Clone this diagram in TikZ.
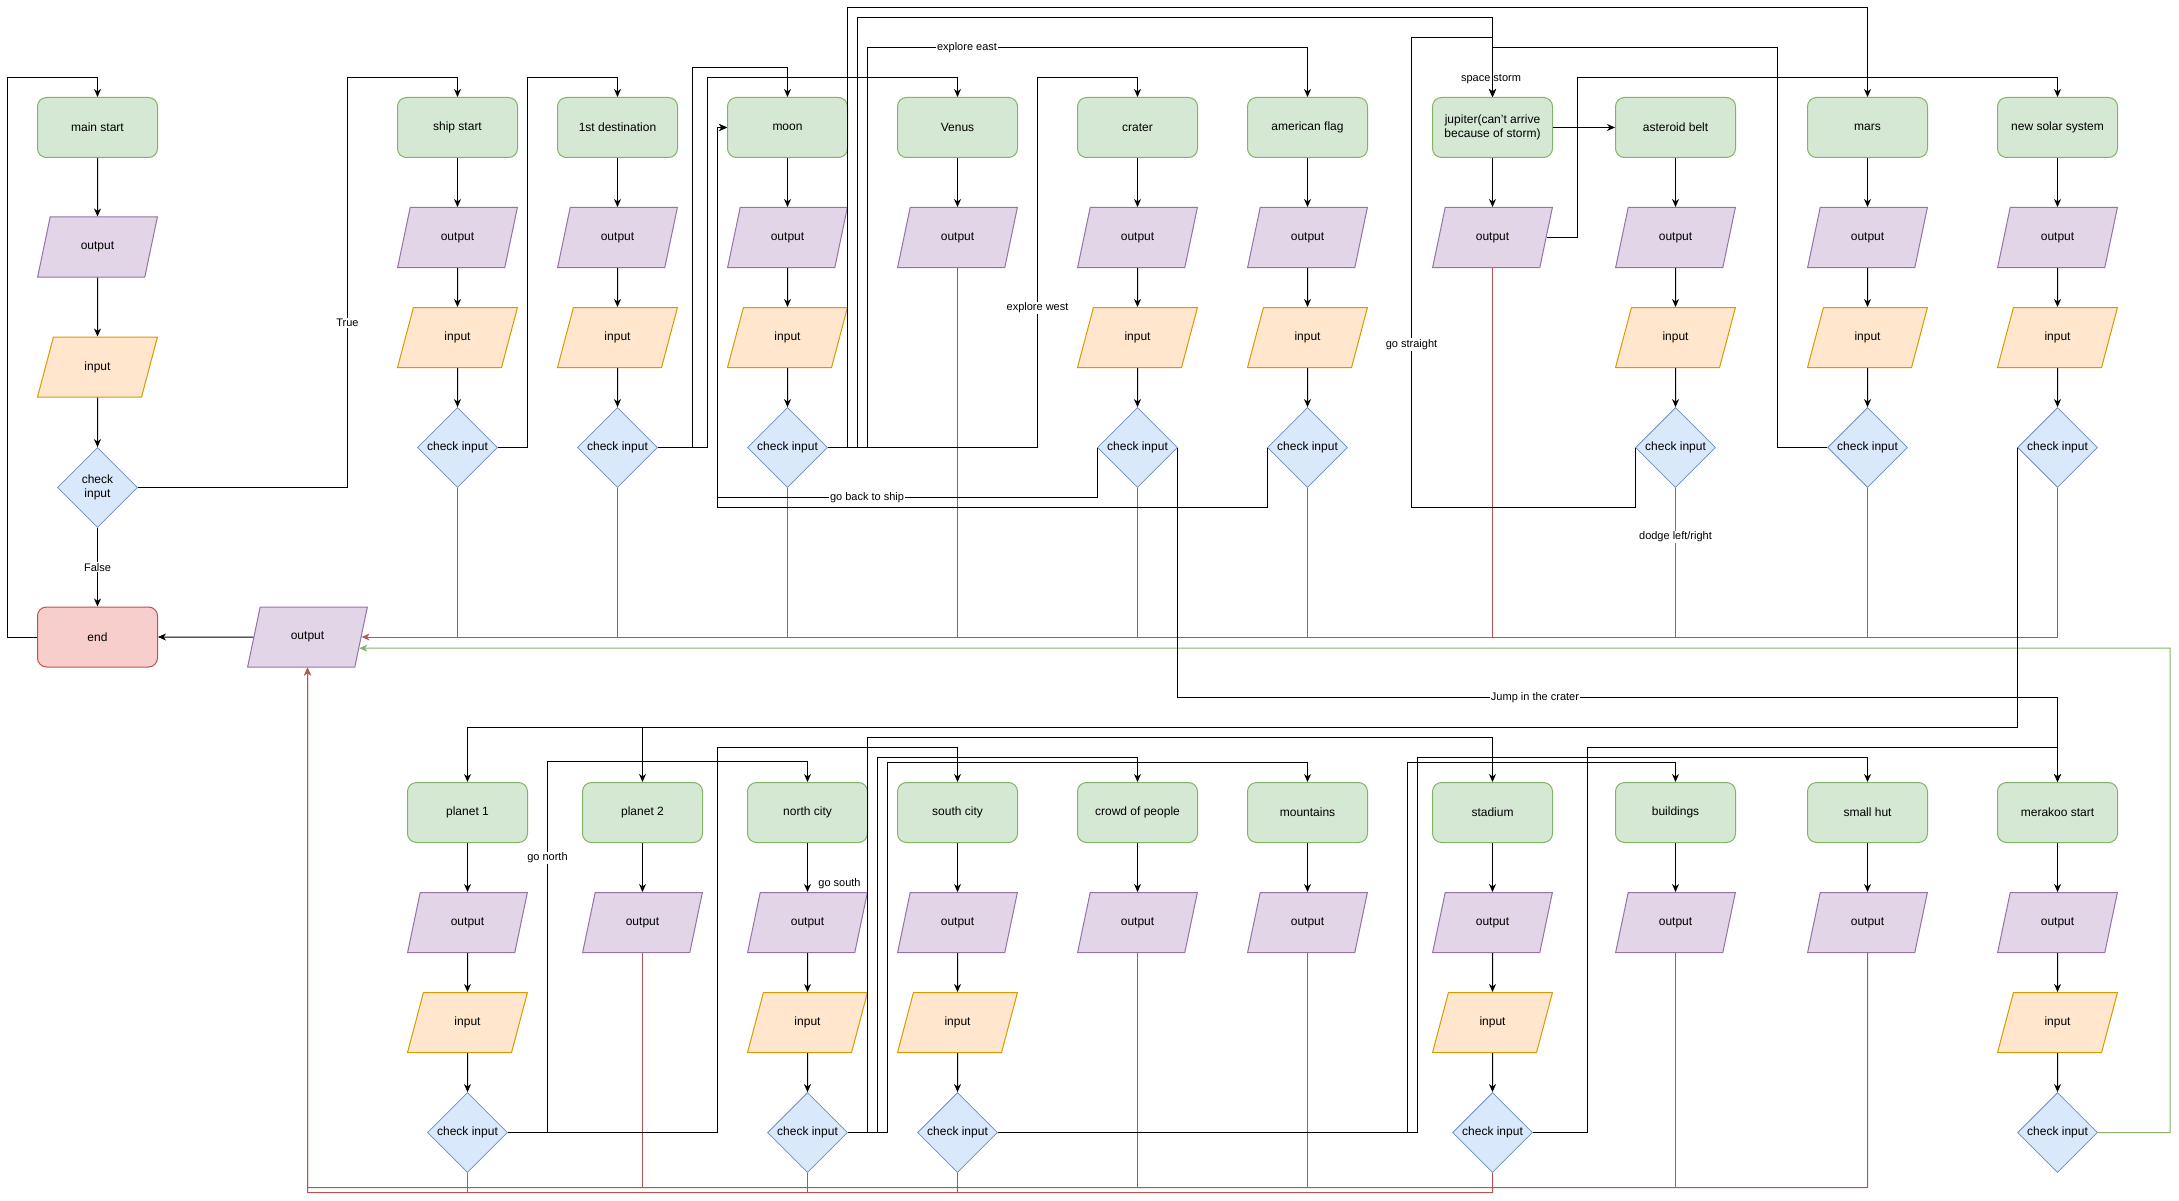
\documentclass[tikz,border=0pt]{standalone}
\usepackage{fontspec}
\setmainfont{Liberation Sans}
\usetikzlibrary{shapes.geometric,arrows.meta,calc}
\definecolor{gfill}{HTML}{D5E8D4}
\definecolor{gline}{HTML}{82B366}
\definecolor{pfill}{HTML}{E1D5E7}
\definecolor{pline}{HTML}{9673A6}
\definecolor{ofill}{HTML}{FFE6CC}
\definecolor{oline}{HTML}{D79B00}
\definecolor{bfill}{HTML}{DAE8FC}
\definecolor{bline}{HTML}{6C8EBF}
\definecolor{rfill}{HTML}{F8CECC}
\definecolor{rline}{HTML}{B85450}
\newcommand\myNodeFont{\fontsize{12}{14}\selectfont}
\newcommand\myLblFont{\fontsize{11}{13}\selectfont}
\tikzset{
  startbox/.style={rectangle, rounded corners=9pt, draw=gline, fill=gfill, line width=1pt, minimum width=120pt, minimum height=60pt, inner sep=2pt, align=center, font=\myNodeFont, text=black},
  endbox/.style={startbox, draw=rline, fill=rfill},
  iobox/.style={trapezium, trapezium left angle=69, trapezium right angle=111, trapezium stretches=true, minimum width=120pt, minimum height=60pt, inner sep=1pt, line width=1pt, font=\myNodeFont, text=black},
  outbox/.style={iobox, draw=pline, fill=pfill},
  inbox/.style={iobox, draw=oline, fill=ofill},
  chkbox/.style={diamond, draw=bline, fill=bfill, line width=0.8pt, minimum width=80pt, minimum height=80pt, inner sep=0pt, align=center, font=\myNodeFont, text=black},
  arr/.style={draw=black, line width=1pt, -{Stealth[length=8pt,width=7pt,inset=2.5pt]}},
  redl/.style={draw=rline, line width=1pt},
  redarr/.style={redl, -{Stealth[length=8pt,width=7pt,inset=2.5pt]}},
  grnarr/.style={draw=gline, line width=1pt, -{Stealth[length=8pt,width=7pt,inset=2.5pt]}},
  lbl/.style={fill=white, inner sep=1pt, font=\myLblFont, text=black},
  freelbl/.style={inner sep=1pt, font=\myLblFont, text=black},
}
\begin{document}
\begin{tikzpicture}[x=1pt,y=-1pt]
\useasboundingbox (0,0) rectangle (2179,1201);
\fill[white] (0,0) rectangle (2179,1201);

% ---------- main column ----------
\node[startbox] (main) at (97.5,127.5) {main start};
\node[outbox] (mainout) at (97.5,247) {output};
\node[inbox] (mainin) at (97.5,367) {input};
\node[chkbox] (mainchk) at (97.5,487.5) {check\\input};
\node[endbox] (end) at (97.5,637) {end};
\node[outbox] (botout) at (307.5,637) {output};
\draw[arr] (main) -- (mainout);
\draw[arr] (mainout) -- (mainin);
\draw[arr] (mainin) -- (mainchk);

% ---------- top row ----------
\foreach \n/\x/\t in {ship/457.5/ship start, first/617.5/1st destination, moon/787.5/moon, crater/1137.5/crater, flag/1307.5/american flag, ast/1675.5/asteroid belt, mars/1867.5/mars, nss/2057.5/new solar system}{
  \node[startbox] (\n) at (\x,127.5) {\t};
  \node[outbox] (\n-out) at (\x,237.5) {output};
  \node[inbox] (\n-in) at (\x,337.5) {input};
  \node[chkbox] (\n-chk) at (\x,447.5) {check input};
  \draw[arr] (\n) -- (\n-out);
  \draw[arr] (\n-out) -- (\n-in);
  \draw[arr] (\n-in) -- (\n-chk);
}
\node[startbox] (venus) at (957.5,127.5) {Venus};
\node[outbox] (venus-out) at (957.5,237.5) {output};
\draw[arr] (venus) -- (venus-out);
\node[startbox] (jup) at (1492.5,127.5) {jupiter(can't arrive\\because of storm)};
\node[outbox] (jup-out) at (1492.5,237.5) {output};
\draw[arr] (jup) -- (jup-out);

% ---------- bottom row ----------
\foreach \n/\x/\t in {p1/467.5/planet 1, north/807.5/north city, south/957.5/south city, stad/1492.5/stadium, merk/2057.5/merakoo start}{
  \node[startbox] (\n) at (\x,812.5) {\t};
  \node[outbox] (\n-out) at (\x,922.5) {output};
  \node[inbox] (\n-in) at (\x,1022.5) {input};
  \node[chkbox] (\n-chk) at (\x,1132.5) {check input};
  \draw[arr] (\n) -- (\n-out);
  \draw[arr] (\n-out) -- (\n-in);
  \draw[arr] (\n-in) -- (\n-chk);
}
\foreach \n/\x/\t in {p2/642.5/planet 2, crowd/1137.5/crowd of people, mount/1307.5/mountains, build/1675.5/buildings, hut/1867.5/small hut}{
  \node[startbox] (\n) at (\x,812.5) {\t};
  \node[outbox] (\n-out) at (\x,922.5) {output};
  \draw[arr] (\n) -- (\n-out);
}

\coordinate (busT) at (0,637.5);
\coordinate (busA) at (307.5,1187.5);
\coordinate (busB) at (307.5,1192.5);
\coordinate (gend) at ($(botout.top right corner)!0.683!(botout.bottom right corner)$);

% ---------- red return lines ----------
\foreach \n in {ship,first,moon,crater,flag,ast,mars}
  \draw[redl] (\n-chk.south) -- (\n-chk.south |- busT);
\foreach \n in {venus,jup}
  \draw[redl] (\n-out.south) -- (\n-out.south |- busT);
\draw[redarr] (nss-chk.south) |- (botout.east);
\node[lbl] at (1675.5,537) {dodge left/right};
\foreach \n in {p1,north,south}
  \draw[redl] (\n-chk.south) -- (\n-chk.south |- busB);
\foreach \n in {p2,crowd,mount,build}
  \draw[redl] (\n-out.south) -- (\n-out.south |- busA);
\draw[redarr] (stad-chk.south) |- (busB) -- (botout.south);
\draw[redarr] (hut-out.south) |- (busA) -- (botout.south);
\draw[grnarr] (merk-chk.east) -| (2170,648) -- (gend);

% ---------- black connectors ----------
\draw[arr] (mainchk.south) -- node[lbl]{False} (end.north);
\draw[arr] (mainchk.east) -| (347.5,77.5) -| (ship.north);
\node[lbl] at (347.5,323) {True};
\draw[arr] (end.west) -| (7.5,77.5) -| (main.north);
\draw[arr] (botout.west) -- (end.east);
\draw[arr] (ship-chk.east) -| (527.5,77.5) -| (first.north);
\draw[arr] (first-chk.east) -| (692.5,67.5) -| (moon.north);
\draw[arr] (first-chk.east) -| (707.5,77.5) -| (venus.north);
\draw[arr] (moon-chk.east) -| (847.5,7.5) -| (mars.north);
\draw[arr] (moon-chk.east) -| (857.5,17.5) -| (jup.north);
\draw[arr] (moon-chk.east) -| (867.5,47.5) -| (flag.north);
\node[lbl] at (967,48) {explore east};
\draw[arr] (moon-chk.east) -| (1037.5,77.5) -| (crater.north);
\node[lbl] at (1037.5,308) {explore west};
\draw[arr] (crater-chk.west) |- (717.5,497.5) |- (moon.west);
\node[lbl] at (867,498) {go back to ship};
\draw[arr] (flag-chk.west) |- (717.5,507.5) |- (moon.west);
\draw[arr] (crater-chk.east) |- (2057.5,697.5) -- (merk.north);
\node[lbl] at (1535,698) {Jump in the crater};
\draw[arr] (jup.east) -- (ast.west);
\draw[arr] (jup-out.east) -| (1577.5,77.5) -| (nss.north);
\draw[arr] (ast-chk.west) |- (1411.5,507.5) |- (1492.5,37.5) -- (jup.north);
\node[lbl] at (1411.5,344.5) {go straight};
\draw[arr] (mars-chk.west) -| (1777.5,47.5) -| (jup.north);
\node[freelbl] at (1491,79.5) {space storm};
\draw[arr] (nss-chk.west) |- (467.5,727.5) -- (p1.north);
\draw[arr] (nss-chk.west) |- (642.5,727.5) -- (p2.north);

\draw[arr] (p1-chk.east) -| (547.5,761.5) -| (north.north);
\node[lbl] at (547.5,858) {go north};
\draw[arr] (p1-chk.east) -| (717.5,747.5) -| (south.north);
\draw[arr] (north-chk.east) -| (867.5,737.5) -| (stad.north);
\draw[arr] (north-chk.east) -| (877.5,757.5) -| (crowd.north);
\draw[arr] (north-chk.east) -| (887.5,762.5) -| (mount.north);
\node[freelbl] at (839.5,884) {go south};
\draw[arr] (south-chk.east) -| (1417.5,757.5) -| (hut.north);
\draw[arr] (south-chk.east) -| (1407.5,762.5) -| (build.north);
\draw[arr] (stad-chk.east) -| (1587.5,747.5) -| (merk.north);
\end{tikzpicture}
\end{document}
